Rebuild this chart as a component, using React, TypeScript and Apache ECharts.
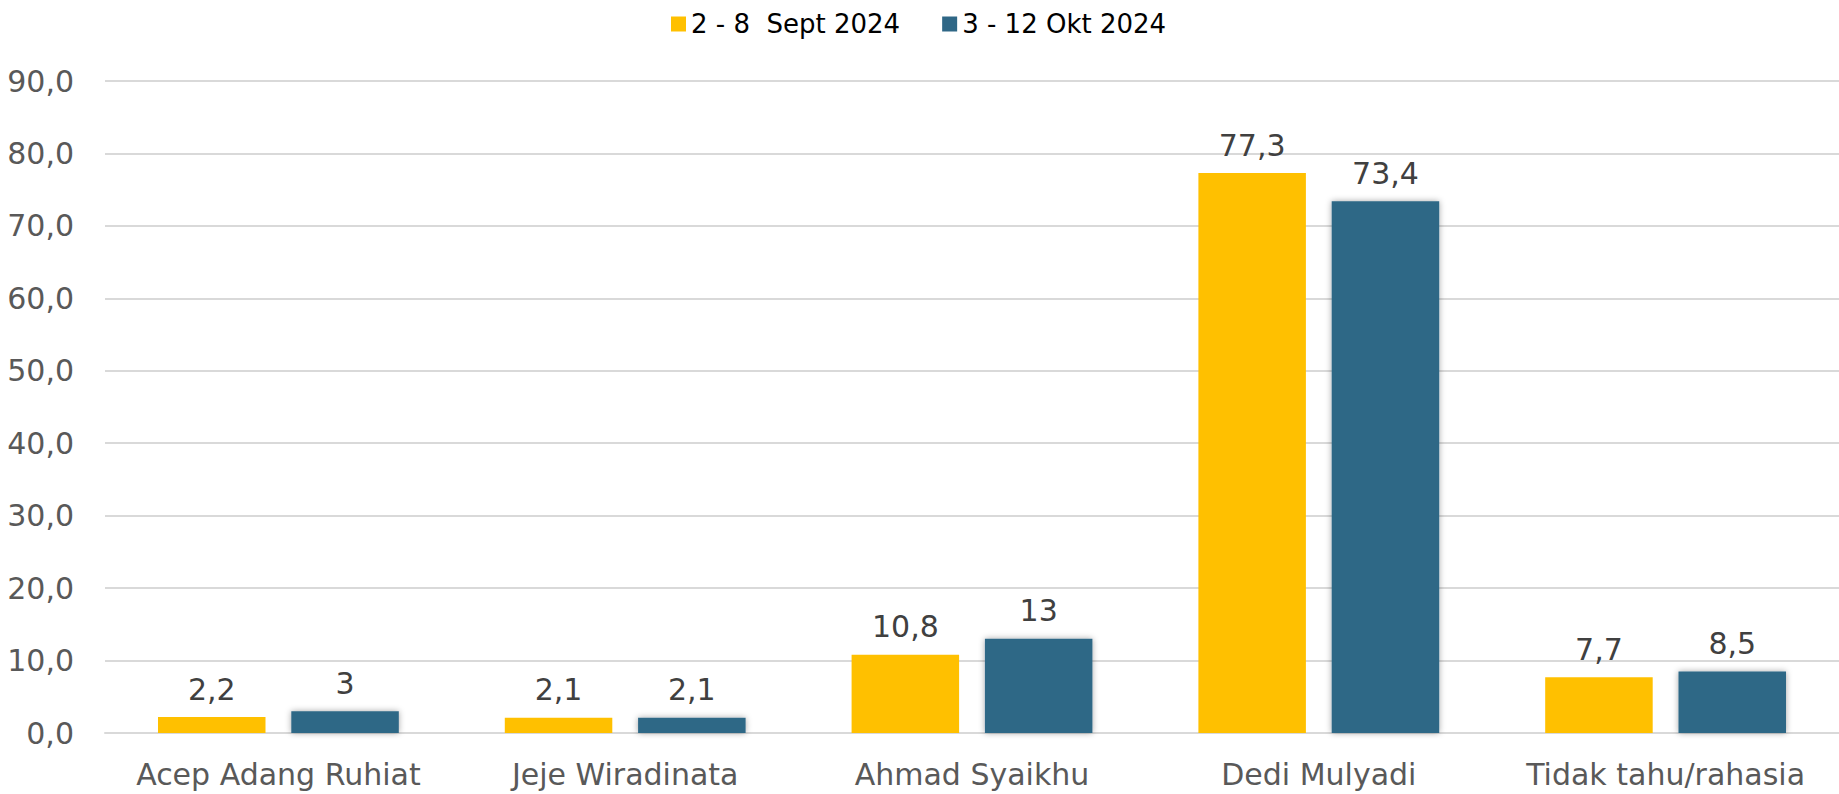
import React, { useEffect, useRef } from "react";
import * as echarts from "echarts";

const categories = ["Acep Adang Ruhiat", "Jeje Wiradinata", "Ahmad Syaikhu", "Dedi Mulyadi", "Tidak tahu/rahasia"];
const seriesNames = ["2 - 8  Sept 2024", "3 - 12 Okt 2024"];
const septValues = [2.2, 2.1, 10.8, 77.3, 7.7];
const oktValues = [3, 2.1, 13, 73.4, 8.5];

const FONT = "DejaVu Sans";
const fmtLabel = (v: number) => String(v).replace(".", ",");

export default function App() {
  const ref = useRef<HTMLDivElement>(null);
  useEffect(() => {
    document.body.style.margin = "0";
    if (!ref.current) return;
    const chart = echarts.init(ref.current, undefined, { renderer: "svg" });
    chart.setOption({
      animation: false,
      backgroundColor: "#ffffff",
      textStyle: { fontFamily: FONT },
      legend: {
        top: 6,
        left: 666,
        itemWidth: 15,
        itemHeight: 15,
        itemGap: 42,
        icon: "rect",
        textStyle: { fontSize: 26, color: "#000000", fontFamily: FONT },
        data: seriesNames,
      },
      grid: { left: 105, right: 0, top: 81, bottom: 61, containLabel: false },
      xAxis: {
        type: "category",
        data: categories,
        axisLine: { show: true, lineStyle: { color: "#D9D9D9", width: 2 } },
        axisTick: { show: false },
        axisLabel: { fontSize: 30, color: "#595959", margin: 26, fontFamily: FONT, interval: 0 },
      },
      yAxis: {
        type: "value",
        min: 0,
        max: 90,
        interval: 10,
        axisLine: { show: false },
        axisTick: { show: false },
        splitLine: { lineStyle: { color: "#D9D9D9", width: 2 } },
        axisLabel: {
          fontSize: 30,
          color: "#595959",
          margin: 31,
          fontFamily: FONT,
          formatter: (v: number) => v.toFixed(1).replace(".", ","),
        },
      },
      series: [
        {
          name: seriesNames[0],
          type: "bar",
          data: septValues,
          barWidth: "31%",
          barGap: "24%",
          itemStyle: { color: "#FFC000" },
          label: {
            show: true,
            position: "top",
            distance: 13,
            fontSize: 30,
            color: "#404040",
            fontFamily: FONT,
            formatter: (p: any) => fmtLabel(p.value),
          },
        },
        {
          name: seriesNames[1],
          type: "bar",
          data: oktValues,
          barWidth: "31%",
          barGap: "24%",
          itemStyle: {
            color: "#2F6786",
            shadowBlur: 6,
            shadowColor: "rgba(0,0,0,0.35)",
          },
          label: {
            show: true,
            position: "top",
            distance: 13,
            fontSize: 30,
            color: "#404040",
            fontFamily: FONT,
            formatter: (p: any) => fmtLabel(p.value),
          },
        },
      ],
    });
    return () => chart.dispose();
  }, []);
  return <div ref={ref} style={{ width: 1839, height: 794 }} />;
}
